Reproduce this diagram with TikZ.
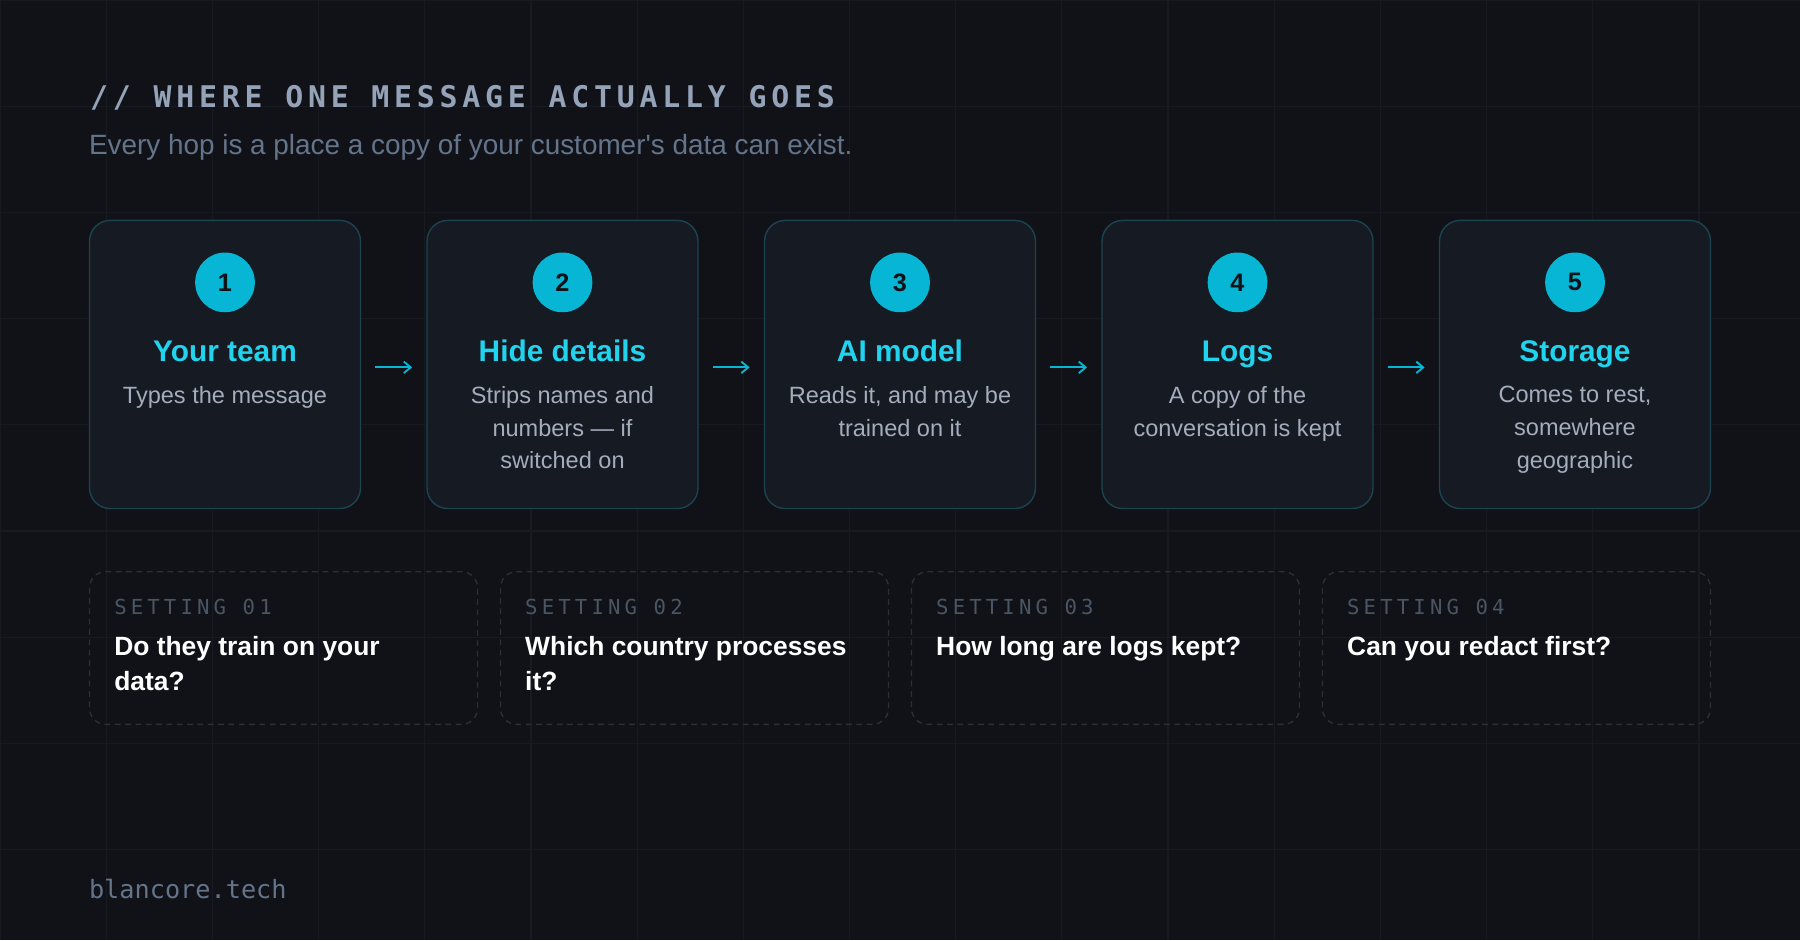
\documentclass[tikz,border=0pt]{standalone}
\usepackage{fontspec}
\setmainfont{Liberation Sans}
\newfontfamily\monof{DejaVu Sans Mono}
\usetikzlibrary{arrows.meta}
\definecolor{bgc}{HTML}{101217}
\definecolor{gridc}{HTML}{171A20}
\definecolor{boxf}{HTML}{161A22}
\definecolor{boxd}{HTML}{1B4451}
\definecolor{cyanc}{HTML}{06B6D4}
\definecolor{headc}{HTML}{22D3EE}
\definecolor{titlec}{HTML}{94A3B8}
\definecolor{subc}{HTML}{64748B}
\definecolor{descc}{HTML}{A3ADBD}
\definecolor{dashc}{HTML}{2A2F38}
\definecolor{setc}{HTML}{4B5563}
\tikzset{
 hop/.style={draw=boxd,fill=boxf,line width=1.2pt,rounded corners=18pt},
 num/.style={circle,fill=cyanc,minimum size=52pt,inner sep=0pt,font=\fontsize{22}{22}\selectfont\bfseries,text=bgc},
 head/.style={anchor=base,font=\fontsize{26}{26}\selectfont\bfseries,text=headc},
 desc/.style={font=\fontsize{20.5}{28.5}\selectfont,text=descc,align=center,anchor=north},
 arr/.style={draw=cyanc,line width=1.6pt,-{Straight Barb[length=6pt,width=10pt]}},
 setb/.style={draw=dashc,line width=1.2pt,dash pattern=on 5pt off 4pt,rounded corners=14pt},
 setl/.style={anchor=west,font=\monof\addfontfeatures{LetterSpace=20}\fontsize{18}{18}\selectfont,text=setc},
 q/.style={anchor=north west,font=\fontsize{23}{30}\selectfont\bfseries,text=white,align=left},
}
\begin{document}
\begin{tikzpicture}[x=1pt,y=-1pt]
\useasboundingbox (0,0) rectangle (1568,819);
\fill[bgc] (0,0) rectangle (1568,819);
\foreach \i in {0,...,17} \draw[gridc,line width=1pt] (\i*92.5,0) -- (\i*92.5,819);
\foreach \i in {0,...,9} \draw[gridc,line width=1pt] (0,\i*92.5) -- (1568,\i*92.5);
\node[anchor=west,font=\monof\bfseries\addfontfeatures{LetterSpace=16}\fontsize{26}{26}\selectfont,text=titlec] (title) at (75,85) {// WHERE ONE MESSAGE ACTUALLY GOES};
\node[anchor=west,font=\addfontfeatures{Mapping=}\fontsize{24.3}{24.3}\selectfont,text=subc] (sub) at (74,128) {Every hop is a place a copy of your customer\symbol{39}s data can exist.};
\foreach \n/\x/\h/\d in {1/78/Your team/Types the message,
 2/372/Hide details/{Strips names and\\numbers --- if\\switched on},
 3/666/AI model/{Reads it, and may be\\trained on it},
 4/960/Logs/{A copy of the\\conversation is kept},
 5/1254/Storage/{Comes to rest,\\somewhere\\geographic}}{
 \draw[hop] (\x,192) rectangle ++(236,251);
 \node[num] (c\n) at (\x+118,246) {\n};
 \node[head] (h\n) at (\x+118,315) {\h};
 \node[desc] (d\n) at (\x+118,333) {\d};
}
\foreach \x/\i in {343/1,637/2,931/3,1225/4}{
 \coordinate (a\i) at (\x-16,320); \coordinate (b\i) at (\x+16,320);
 \draw[arr] (a\i) -- (b\i);
}
\foreach \n/\x/\t in {1/78/{Do they train on your\\data?},2/436/{Which country processes\\it?},3/794/{How long are logs kept?},4/1152/{Can you redact first?}}{
 \draw[setb] (\x,498) rectangle ++(338,133);
 \node[setl] (s\n) at (\x+18,529) {SETTING 0\n};
 \node[q] (q\n) at (\x+18,551) {\t};
}
\node[anchor=west,font=\monof\fontsize{22}{22}\selectfont,text=subc] (foot) at (74,774) {blancore.tech};
\end{tikzpicture}
\end{document}
